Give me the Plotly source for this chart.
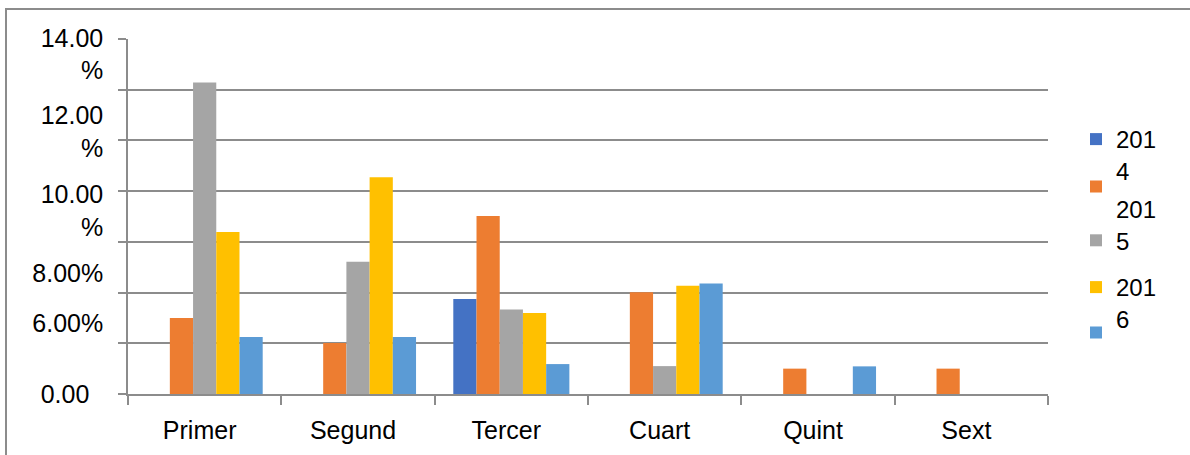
import plotly.graph_objects as go

# ---- data ----
categories = ["Primer", "Segund", "Tercer", "Cuart", "Quint", "Sext"]
series_names = ["201<br>4", " ", "201<br>5", "201<br>6", " "]
s1 = [None, None, 3.75, None, None, None]
s2 = [3.00, 2.01, 7.02, 4.01, 1.00, 1.00]
s3 = [12.28, 5.22, 3.33, 1.10, None, None]
s4 = [6.39, 8.55, 3.19, 4.27, None, None]
s5 = [2.25, 2.25, 1.18, 4.36, 1.09, None]

# y tick labels as they appear (offset from gridlines in the original)
ytick_text = ["14.00<br>%", "12.00<br>%", "10.00<br>%", "8.00%", "6.00%", "0.00\u00a0\u00a0"]
ytick_pos = [13.39, 10.34, 7.22, 4.77, 2.80, 0.001]
grid_vals = [0, 2, 4, 6, 8, 10, 12, 14]

colors = ["#4472C4", "#ED7D31", "#A5A5A5", "#FFC000", "#5B9BD5"]
series = [s1, s2, s3, s4, s5]
legend_ids = ["legend", "legend2", "legend3", "legend4", "legend5"]

FONT = "Liberation Sans, Arial, sans-serif"
GRID = "#8c8c8c"

fig = go.Figure()
for name, vals, col, lg in zip(series_names, series, colors, legend_ids):
    fig.add_trace(go.Bar(x=categories, y=vals, name=name, marker_color=col,
                         marker_line_width=0, legend=lg))

W, H = 1190, 455
L, R, T, B = 128, 142, 39, 61
pw, ph = W - L - R, H - T - B

def px_x(p):
    return (p - L) / pw

def px_y(p):
    return (H - B - p) / ph

def leg(center_px, valign):
    return dict(x=px_x(1076), xanchor="left", y=px_y(center_px), yanchor="middle",
                bgcolor="rgba(0,0,0,0)", borderwidth=0, valign=valign,
                font=dict(family=FONT, size=24, color="#000000"))

fig.update_layout(
    width=W, height=H,
    margin=dict(l=L, r=R, t=T, b=B, autoexpand=False),
    paper_bgcolor="white", plot_bgcolor="white",
    font=dict(family=FONT, size=25, color="#000000"),
    barmode="group", bargap=0.243, bargroupgap=0,
    showlegend=True,
    legend=leg(155, "top"),
    legend2=leg(187, "middle"),
    legend3=leg(225, "bottom"),
    legend4=leg(303, "top"),
    legend5=leg(333, "middle"),
    xaxis=dict(
        type="category", showgrid=False, showline=True, linecolor=GRID, linewidth=1.5,
        ticks="outside", ticklen=9, tickcolor=GRID, tickwidth=1.5,
        tickson="boundaries", ticklabelstandoff=13, ticklabelshift=-5,
        tickfont=dict(family=FONT, size=25, color="#000000"),
    ),
    yaxis=dict(
        range=[0, 14], showline=True, linecolor=GRID, linewidth=1.5,
        showgrid=False, zeroline=False,
        tickmode="array", tickvals=ytick_pos, ticktext=ytick_text, ticks="",
        ticklabelstandoff=18,
        tickfont=dict(family=FONT, size=25, color="#000000"),
        minor=dict(tickmode="array", tickvals=grid_vals, ticks="outside", ticklen=8,
                   tickcolor=GRID, tickwidth=1.5, showgrid=True, gridcolor=GRID,
                   gridwidth=1.5),
    ),
    shapes=[dict(type="rect", xref="paper", yref="paper",
                 x0=px_x(6), x1=px_x(1260), y0=px_y(9), y1=px_y(520),
                 line=dict(color=GRID, width=2), fillcolor="rgba(0,0,0,0)", layer="below")],
)

fig.write_html(
    "out.html",
    config={"displayModeBar": False},
    post_script="document.body.style.margin='0';document.body.style.overflow='hidden';",
)
